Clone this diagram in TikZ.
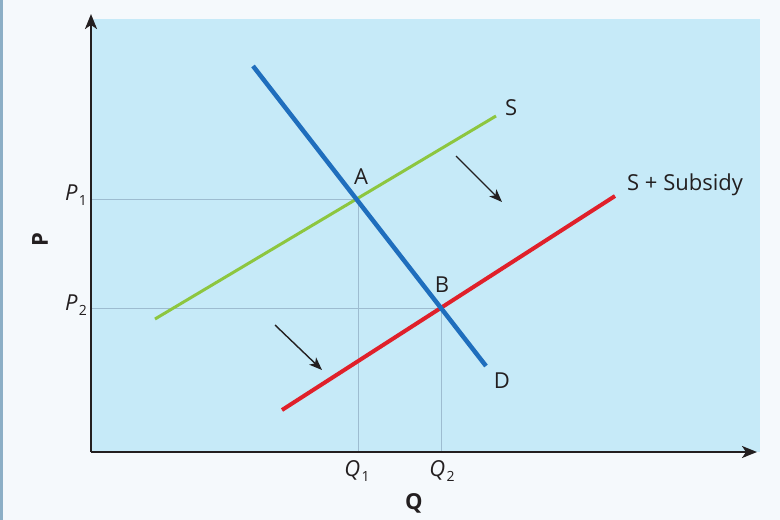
\documentclass[tikz,border=0pt]{standalone}
\usepackage{fontspec}
\setmainfont{Open Sans}
\usetikzlibrary{arrows.meta}
\definecolor{pagebg}{HTML}{F5F9FC}
\definecolor{plotbg}{HTML}{C6EAF8}
\definecolor{edge}{HTML}{8CAFC6}
\definecolor{gridc}{HTML}{9DBCD0}
\definecolor{dblue}{HTML}{1F6EBD}
\definecolor{sgreen}{HTML}{8DC63F}
\definecolor{sred}{HTML}{E0202A}
\definecolor{ink}{HTML}{231F20}
\tikzset{
  lbl/.style={font=\fontsize{22}{26}\selectfont, text=ink, inner sep=0pt},
  boldlbl/.style={font=\fontsize{22}{26}\selectfont\bfseries, text=ink, inner sep=0pt},
  axis/.style={draw=ink, line width=2.2pt, -{Stealth[length=15pt,width=12pt,inset=4pt]}},
  guide/.style={draw=gridc, line width=1pt},
  shiftarrow/.style={draw=ink, line width=1.4pt, -{Stealth[length=13pt,width=10pt,inset=3.5pt]}},
  curve/.style={line width=#1, line cap=butt},
}
\newcommand{\subl}[2]{\textit{#1}\kern1.5pt\raisebox{-5pt}{\fontsize{14}{16}\selectfont #2}}
\begin{document}
\begin{tikzpicture}[x=1pt,y=-1pt]
\useasboundingbox (0,0) rectangle (780,520);
\fill[pagebg] (0,0) rectangle (780,520);
\fill[edge] (0,0) rectangle (3,520);
\fill[plotbg] (92,19) rectangle (760,452);
% points
\coordinate (O) at (91,452);
\coordinate (ytop) at (91,14);
\coordinate (xend) at (757,452);
\coordinate (A) at (358,199);
\coordinate (B) at (441,308);
\coordinate (yA) at (92,199);
\coordinate (yB) at (92,308);
\coordinate (xA) at (358,451);
\coordinate (xB) at (441,451);
% guides
\draw[guide] (yA) -- (A) -- (xA);
\draw[guide] (yB) -- (B) -- (xB);
% curves
\coordinate (s1) at (155,319);
\coordinate (s2) at (496,116);
\coordinate (r1) at (282,410);
\coordinate (r2) at (615,196);
\coordinate (d1) at (253,66);
\coordinate (d2) at (486,366);
\draw[sgreen, curve=3pt] (s1) -- (s2);
\draw[sred, curve=4pt] (r1) -- (r2);
\draw[dblue, curve=4.5pt] (d1) -- (d2);
% axes
\draw[axis] (O) -- (ytop);
\draw[axis] (O) -- (xend);
% shift arrows
\coordinate (a1s) at (456,156);
\coordinate (a1e) at (502,202);
\coordinate (a2s) at (275,325);
\coordinate (a2e) at (322,370);
\draw[shiftarrow] (a1s) -- (a1e);
\draw[shiftarrow] (a2s) -- (a2e);
% labels
\node[lbl] (lA) at (361,177) {A};
\node[lbl] (lB) at (442,285) {B};
\node[lbl, anchor=west] (lS) at (505,108) {S};
\node[lbl, anchor=west] (lSS) at (627,185) {S + Subsidy};
\node[lbl] (lD) at (502,381) {D};
\node[lbl] (lP1) at (76,195) {\subl{P}{1}};
\node[lbl] (lP2) at (76,305) {\subl{P}{2}};
\node[lbl] (lQ1) at (357,471) {\subl{Q}{1}};
\node[lbl] (lQ2) at (442,471) {\subl{Q}{2}};
\node[boldlbl] (lQ) at (414,503) {Q};
\node[boldlbl, rotate=90] (lP) at (40,240) {P};
\end{tikzpicture}
\end{document}
